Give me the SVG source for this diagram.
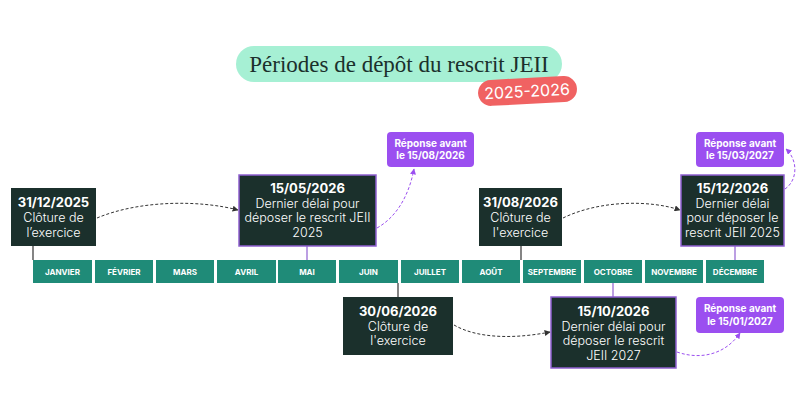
<svg xmlns="http://www.w3.org/2000/svg" width="800" height="400" viewBox="0 0 800 400">
<style>
.box{fill:#1b302c}
.bp{fill:#1b302c;stroke:#8f5fd0;stroke-width:1.5}
.t{font-family:Inter,"Liberation Sans",sans-serif;fill:#fff;text-anchor:middle;font-size:12.5px;font-weight:300}
.b{font-weight:700;font-size:13px}
.m{fill:#1f8b78}
.mt{font-family:Inter,"Liberation Sans",sans-serif;fill:#fff;text-anchor:middle;font-size:8px;font-weight:700}
.r{fill:#9b4ff0}
.rt{font-family:Inter,"Liberation Sans",sans-serif;fill:#fff;text-anchor:middle;font-size:10px;font-weight:700}
.c{fill:none;stroke:#333;stroke-width:1;stroke-dasharray:3 2}
.cp{fill:none;stroke:#9b4ff0;stroke-width:1;stroke-dasharray:3 2}
.v{stroke:#333;stroke-width:1.2}
.vp{stroke:#8f5fd0;stroke-width:1.2}
</style>
<defs>
<marker id="a" viewBox="0 0 10 10" refX="9" refY="5" markerWidth="6" markerHeight="6" orient="auto"><path d="M0,0L10,5L0,10z" fill="#333"/></marker>
<marker id="ap" viewBox="0 0 10 10" refX="9" refY="5" markerWidth="6" markerHeight="6" orient="auto"><path d="M0,0L10,5L0,10z" fill="#9b4ff0"/></marker>
</defs>
<rect width="800" height="400" fill="#fff"/>
<g id="title">
<rect x="236" y="46" width="326" height="36" rx="18" fill="#a6f0d4"/>
<text x="399" y="72" font-family="'Liberation Serif',serif" font-size="23" fill="#1b302c" text-anchor="middle">Périodes de dépôt du rescrit JEII</text>
<g transform="rotate(-3 527 91)"><rect x="478" y="78" width="99" height="26" rx="13" fill="#f06262"/>
<text x="527" y="97" font-family="Inter,'Liberation Sans',sans-serif" font-size="16" fill="#fff" text-anchor="middle">2025-2026</text></g>
</g>
<g id="connectors">
<line class="v" x1="33" y1="246" x2="33" y2="260"/>
<line class="vp" x1="307" y1="246" x2="307" y2="260"/>
<line class="v" x1="521" y1="246" x2="521" y2="260"/>
<line class="vp" x1="735" y1="246" x2="735" y2="260"/>
<line class="v" x1="398" y1="283" x2="398" y2="297"/>
<line class="vp" x1="613" y1="283" x2="613" y2="297"/>
<path class="c" d="M97,218 C140,200 200,200 238,210" marker-end="url(#a)"/>
<path class="c" d="M563,218 C600,200 650,200 680,210" marker-end="url(#a)"/>
<path class="c" d="M454,325 C480,340 520,338 550,332" marker-end="url(#a)"/>
<path class="cp" d="M377,228 C400,215 410,190 414,169" marker-end="url(#ap)"/>
<path class="cp" d="M785,189 C798,180 798,160 786,149" marker-end="url(#ap)"/>
<path class="cp" d="M677,352 C700,360 725,355 740,333" marker-end="url(#ap)"/>
</g>
<g id="months">
<rect class="m" x="33" y="260" width="59" height="23"/><text class="mt" x="62.5" y="274.5">JANVIER</text>
<rect class="m" x="95" y="260" width="58" height="23"/><text class="mt" x="124" y="274.5">FÉVRIER</text>
<rect class="m" x="156" y="260" width="58" height="23"/><text class="mt" x="185" y="274.5">MARS</text>
<rect class="m" x="217" y="260" width="59" height="23"/><text class="mt" x="246.5" y="274.5">AVRIL</text>
<rect class="m" x="278" y="260" width="58" height="23"/><text class="mt" x="307" y="274.5">MAI</text>
<rect class="m" x="339" y="260" width="59" height="23"/><text class="mt" x="368.5" y="274.5">JUIN</text>
<rect class="m" x="401" y="260" width="58" height="23"/><text class="mt" x="430" y="274.5">JUILLET</text>
<rect class="m" x="462" y="260" width="58" height="23"/><text class="mt" x="491" y="274.5">AOÛT</text>
<rect class="m" x="523" y="260" width="58" height="23"/><text class="mt" x="552" y="274.5">SEPTEMBRE</text>
<rect class="m" x="584" y="260" width="58" height="23"/><text class="mt" x="613" y="274.5">OCTOBRE</text>
<rect class="m" x="645" y="260" width="58" height="23"/><text class="mt" x="674" y="274.5">NOVEMBRE</text>
<rect class="m" x="706" y="260" width="58" height="23"/><text class="mt" x="735" y="274.5">DÉCEMBRE</text>
</g>
<g id="n1"><rect class="box" x="11" y="188" width="85" height="58"/>
<text class="t b" x="53.5" y="207">31/12/2025</text><text class="t" x="53.5" y="222">Clôture de</text><text class="t" x="53.5" y="237">l’exercice</text></g>
<g id="n2"><rect class="bp" x="239" y="175" width="137" height="71"/>
<text class="t b" x="307.5" y="193">15/05/2026</text><text class="t" x="307.5" y="208">Dernier délai pour</text><text class="t" x="307.5" y="222">déposer le rescrit JEII</text><text class="t" x="307.5" y="237">2025</text></g>
<g id="r1"><rect class="r" x="387" y="132" width="87" height="35" rx="4"/>
<text class="rt" x="430.5" y="147">Réponse avant</text><text class="rt" x="430.5" y="159">le 15/08/2026</text></g>
<g id="n3"><rect class="box" x="479" y="188" width="83" height="58"/>
<text class="t b" x="520.5" y="207">31/08/2026</text><text class="t" x="520.5" y="222">Clôture de</text><text class="t" x="520.5" y="237">l'exercice</text></g>
<g id="n4"><rect class="bp" x="681" y="175" width="103" height="71"/>
<text class="t b" x="732.5" y="193">15/12/2026</text><text class="t" x="732.5" y="208">Dernier délai</text><text class="t" x="732.5" y="222">pour déposer le</text><text class="t" x="732.5" y="237">rescrit JEII 2025</text></g>
<g id="r2"><rect class="r" x="696" y="132" width="88" height="35" rx="4"/>
<text class="rt" x="740" y="147">Réponse avant</text><text class="rt" x="740" y="159">le 15/03/2027</text></g>
<g id="n5"><rect class="box" x="343" y="297" width="110" height="58"/>
<text class="t b" x="398" y="316">30/06/2026</text><text class="t" x="398" y="331">Clôture de</text><text class="t" x="398" y="345">l'exercice</text></g>
<g id="n6"><rect class="bp" x="551" y="297" width="125" height="71"/>
<text class="t b" x="613.5" y="316">15/10/2026</text><text class="t" x="613.5" y="331">Dernier délai pour</text><text class="t" x="613.5" y="345">déposer le rescrit</text><text class="t" x="613.5" y="360">JEII 2027</text></g>
<g id="r3"><rect class="r" x="696" y="297" width="88" height="36" rx="4"/>
<text class="rt" x="740" y="312">Réponse avant</text><text class="rt" x="740" y="325">le 15/01/2027</text></g>
</svg>
